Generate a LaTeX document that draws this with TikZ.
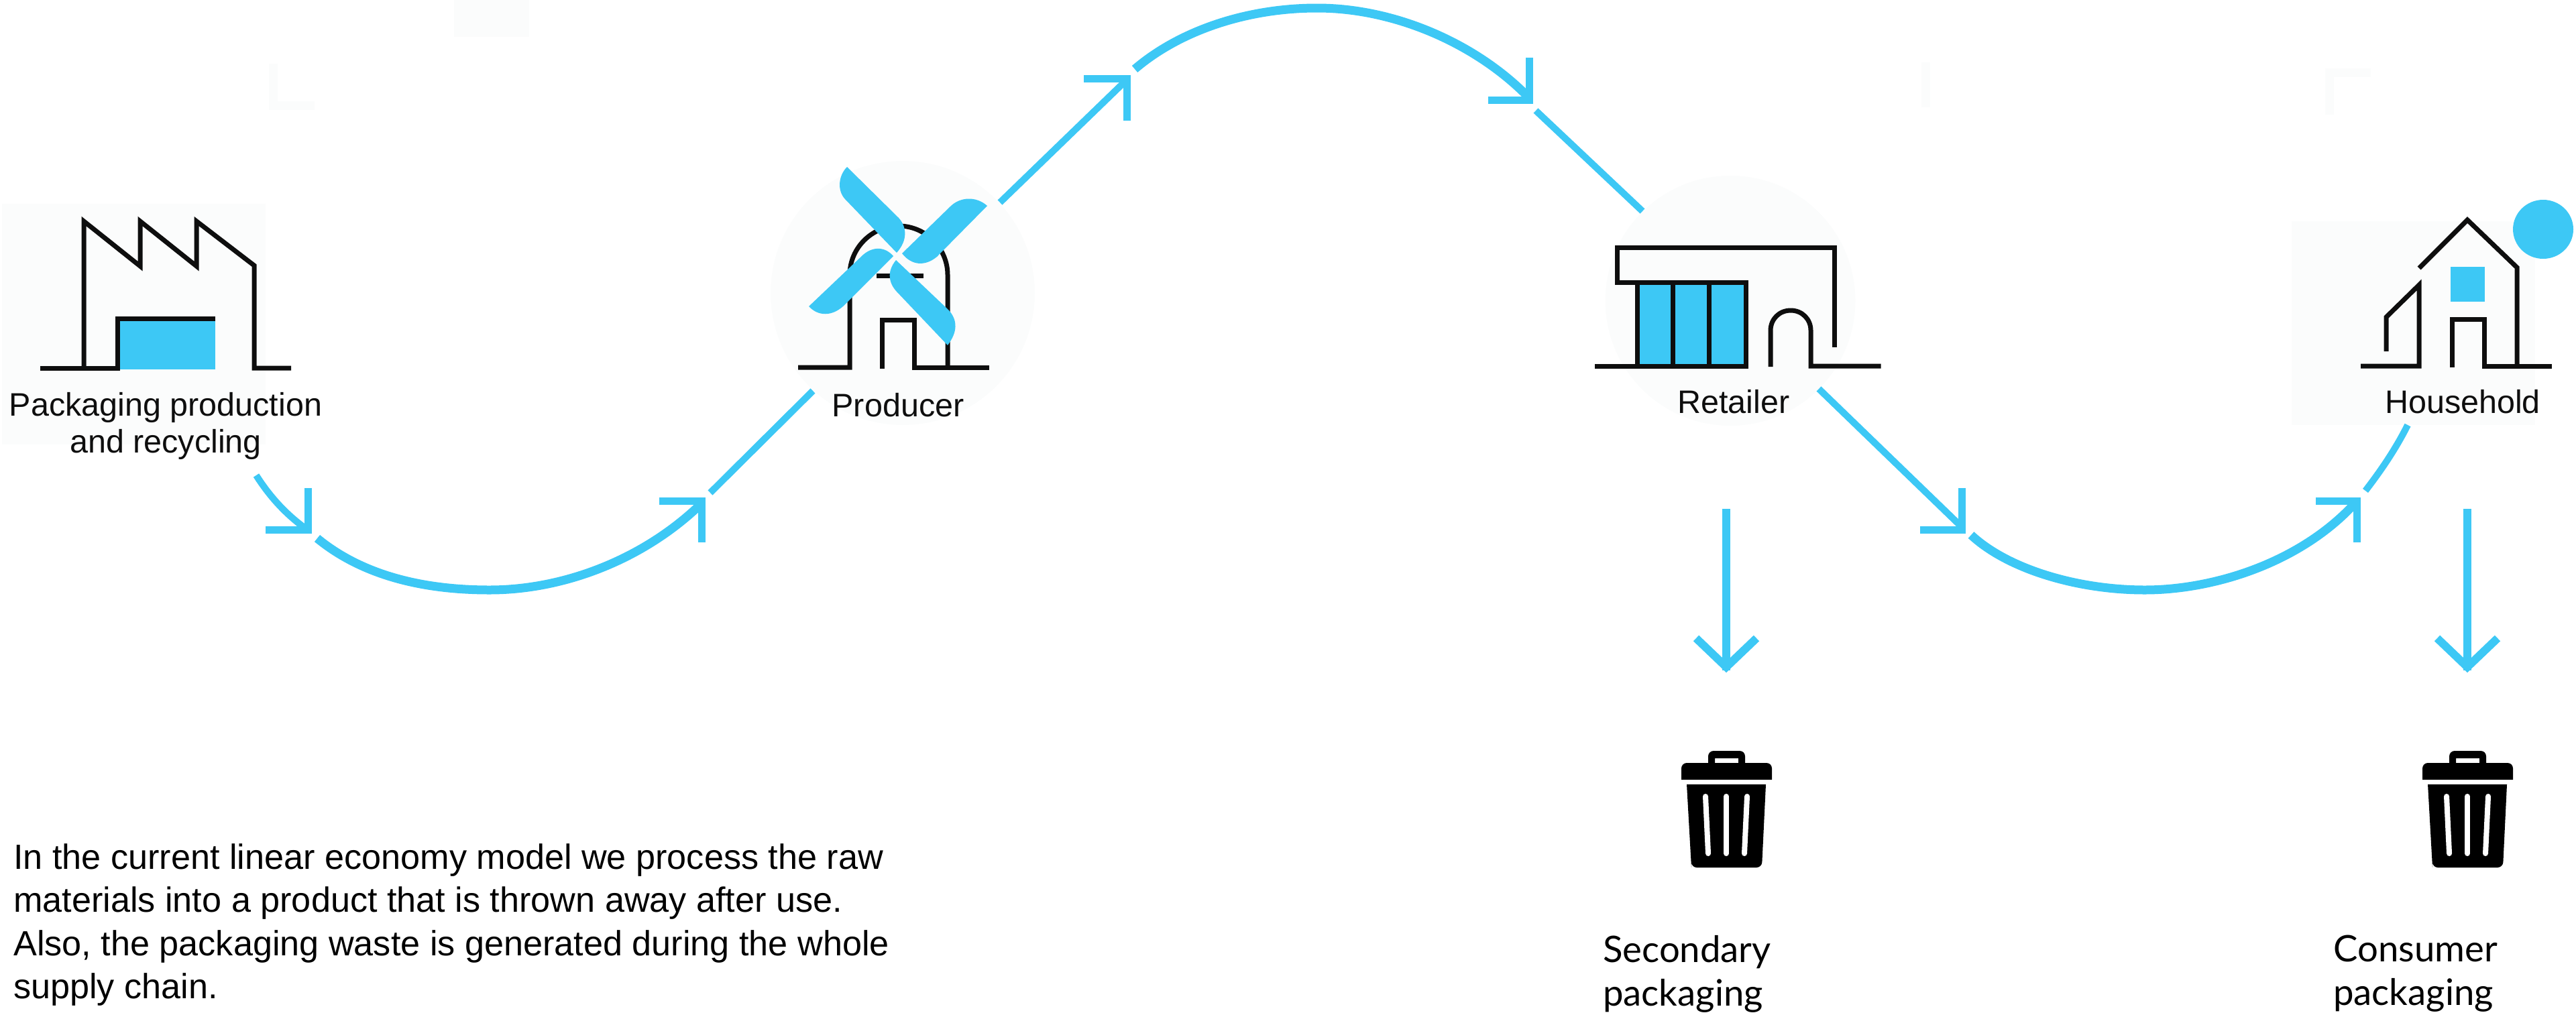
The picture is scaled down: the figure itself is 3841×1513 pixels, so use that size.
\documentclass[tikz,border=0pt]{standalone}
\usepackage{fontspec}
\setmainfont{Liberation Sans}
\newfontfamily\avenirish{Lato}
\definecolor{flowblue}{HTML}{3DC8F5}
\definecolor{haze}{HTML}{FBFCFC}
\definecolor{inkblack}{HTML}{0E0E0E}
\tikzset{
  bgshape/.style={fill=haze,draw=none},
  hazeline/.style={draw=haze,line width=13pt},
  iconline/.style={draw=inkblack,line width=7pt,line cap=butt,miter limit=10},
  bluefill/.style={fill=flowblue,draw=none},
  flow/.style={draw=flowblue,line width=10pt,line cap=butt},
  flowbold/.style={draw=flowblue,line width=13pt,line cap=butt},
  headbar/.style={draw=flowblue,line width=11pt,line cap=butt,miter limit=10},
  iconlabel/.style={inner sep=0pt,text=inkblack,font=\fontsize{48.5}{55}\selectfont,align=center},
  wastelabel/.style={inner sep=0pt,anchor=north west,align=left,text=black,font=\avenirish\fontsize{54.5}{65}\selectfont},
  bodytext/.style={inner sep=0pt,anchor=north west,align=left,text=black,font=\fontsize{52.2}{64.5}\selectfont},
  slot/.style={draw=white,line width=8pt,line cap=round},
}
\begin{document}
\begin{tikzpicture}[x=1pt,y=-1pt]
\useasboundingbox (0,0) rectangle (3841,1513);
% faint remnants
\fill[haze] (677,0) rectangle (789,55);
\draw[hazeline] (407,95) -- (407,157) -- (469,157);
\draw[hazeline] (3535,108) -- (3473,108) -- (3473,171);
\draw[hazeline] (2871.5,93) -- (2871.5,160);
% backgrounds
\fill[bgshape] (3,304) rectangle (396,663);
\fill[bgshape] (1346,437) circle [radius=197];
\fill[bgshape] (2580,448.5) circle [radius=186.5];
\fill[bgshape] (3417,330) rectangle (3780,634);
% factory
\fill[bluefill] (179,479) rectangle (321,551);
\draw[iconline] (60,549) -- (175,549) -- (175,475) -- (321,475);
\draw[iconline] (125,549) -- (125,330) -- (209,397) -- (209,330) -- (293,397) -- (293,330) -- (379,396) -- (379,549) -- (434,549);
\node[iconlabel,anchor=north] (pack) at (247,585) {Packaging production\\and recycling};
% windmill
\draw[iconline] (1190,548) -- (1267,548) -- (1267,410) .. controls (1267,370) and (1300,337) .. (1340,337) .. controls (1380,337) and (1413,370) .. (1413,410) -- (1413,548);
\draw[iconline] (1315,550) -- (1315,477) -- (1363,477) -- (1363,548) -- (1475,548);
\draw[iconline] (1307,411) -- (1377,411);
\fill[flowblue] (1263,249) -- (1340,325) .. controls (1352,338) and (1354,358) .. (1337,377) -- (1260,297) .. controls (1248,284) and (1250,262) .. cycle;
\fill[flowblue] (1472,307) -- (1397,383) .. controls (1380,397) and (1360,397) .. (1345,378) -- (1418,307) .. controls (1432,294) and (1455,292) .. cycle;
\fill[flowblue] (1413,515) -- (1337,435) .. controls (1325,422) and (1322,405) .. (1336,388) -- (1415,463) .. controls (1428,478) and (1428,495) .. cycle;
\fill[flowblue] (1206,457) -- (1287,380) .. controls (1302,367) and (1320,368) .. (1332,382) -- (1257,457) .. controls (1240,472) and (1220,472) .. cycle;
\node[iconlabel,anchor=base] (prod) at (1339,621) {Producer};
% shop
\fill[bluefill] (2442,421) rectangle (2603,546);
\draw[iconline] (2378,546) -- (2603.5,546) -- (2603.5,421) -- (2411.5,421) -- (2411.5,369) -- (2735,369) -- (2735,518);
\draw[iconline] (2441,421) -- (2441,546);
\draw[iconline] (2494,421) -- (2494,546);
\draw[iconline] (2548,421) -- (2548,546);
\draw[iconline] (2640,547) -- (2640,493) .. controls (2640,476) and (2653,463) .. (2670,463) .. controls (2687,463) and (2700,476) .. (2700,493) -- (2700,546) -- (2804.5,546);
\node[iconlabel,anchor=base] (ret) at (2585,616) {Retailer};
% house
\fill[flowblue] (3792,342) ellipse [x radius=45,y radius=44];
\fill[bluefill] (3654,398) rectangle (3705,450);
\draw[iconline] (3607,400) -- (3679,328) -- (3753,399) -- (3753,546);
\draw[iconline] (3656,548) -- (3656,476) -- (3704,476) -- (3704,546) -- (3805,546);
\draw[iconline] (3558,524) -- (3558,473) -- (3607,425) -- (3607,546) -- (3520,546);
\node[iconlabel,anchor=base] (house) at (3672,616) {Household};
% connectors
\coordinate (a1) at (382,709);
\coordinate (a2) at (458,790);
\coordinate (a3) at (473,803);
\coordinate (a4) at (730,880);
\coordinate (a5) at (1047,750);
\coordinate (a6) at (1059,735);
\coordinate (a7) at (1212,583);
\draw[flow] (a1) .. controls (405,745) and (430,770) .. (a2);
\draw[flowbold] (a3) .. controls (540,858) and (630,880) .. (a4) .. controls (840,880) and (960,835) .. (a5);
\draw[flow] (a6) -- (a7);
\draw[headbar] (396,790.5) -- (459.5,790.5) -- (459.5,728);
\draw[headbar] (983,747) -- (1046,747) -- (1046,809);
\coordinate (b1) at (1491,302);
\coordinate (b2) at (1677,122);
\coordinate (b3) at (1692,103);
\coordinate (b4) at (1964,12);
\coordinate (b5) at (2277,143);
\coordinate (b6) at (2290,165);
\coordinate (b7) at (2449,315);
\draw[flow] (b1) -- (b2);
\draw[flowbold] (b3) .. controls (1760,45) and (1860,12) .. (b4) .. controls (2080,12) and (2200,65) .. (b5);
\draw[flow] (b6) -- (b7);
\draw[headbar] (1616,117) -- (1680,117) -- (1680,180);
\draw[headbar] (2219,149) -- (2280,149) -- (2280,86);
\coordinate (c1) at (2712,580);
\coordinate (c2) at (2924,785);
\coordinate (c3) at (2939,798);
\coordinate (c4) at (3198,880);
\coordinate (c5) at (3512,750);
\coordinate (c6) at (3527,732);
\coordinate (c7) at (3590,634);
\draw[flow] (c1) -- (c2);
\draw[flowbold] (c3) .. controls (2995,850) and (3100,880) .. (c4) .. controls (3300,880) and (3430,840) .. (c5);
\draw[flow] (c6) .. controls (3550,702) and (3572,670) .. (c7);
\draw[headbar] (2863,790) -- (2925,790) -- (2925,728);
\draw[headbar] (3453,747) -- (3514,747) -- (3514,809);
% trash cans
\foreach \dx/\nm in {0/sec,1105/con}{
  \begin{scope}[xshift=\dx pt]
    \coordinate (\nm top) at (2574,759);
    \coordinate (\nm tip) at (2574,1000);
    \draw[flow,line width=12pt] (\nm top) -- (\nm tip);
    \draw[headbar,line width=12pt] (2529,952) -- (2574,995) -- (2619,952);
    \fill[black,even odd rule] (2547,1138) -- (2547,1130) [rounded corners=8pt] -- (2547,1120) -- (2602,1120) [sharp corners] -- (2602,1138) -- cycle (2557,1131) rectangle (2592,1138);
    \fill[black,rounded corners=8pt] (2507,1163) -- (2507,1138) -- (2642,1138) [sharp corners] -- (2642,1163) -- cycle;
    \fill[black,rounded corners=8pt] (2515,1170) [sharp corners] -- (2522,1294) [rounded corners=8pt] -- (2522,1294) -- (2627,1294) [sharp corners] -- (2633,1170) -- cycle;
    \draw[slot] (2543,1188) -- (2547,1273);
    \draw[slot] (2574,1188) -- (2574,1273);
    \draw[slot] (2605,1188) -- (2601,1273);
  \end{scope}
}
\node[wastelabel] (secl) at (2390,1395) {Secondary\\packaging};
\node[wastelabel] (conl) at (3479,1395) {Consumer\\packaging};
\node[bodytext] (para) at (20,1258) {In the current linear economy model we process the raw\\materials into a product that is thrown away after use.\\Also, the packaging waste is generated during the whole\\supply chain.};
\end{tikzpicture}
\end{document}
